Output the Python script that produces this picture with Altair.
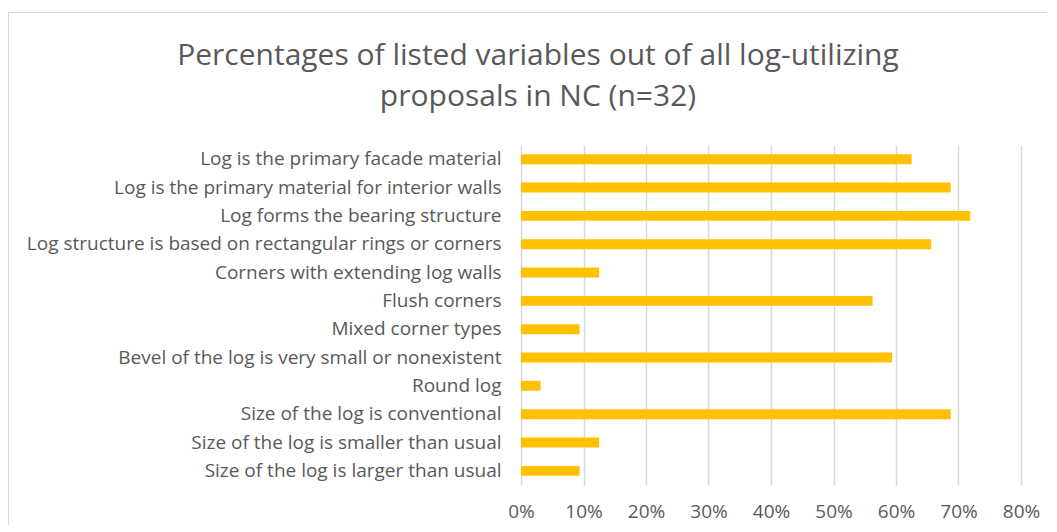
import altair as alt
import pandas as pd

categories = [
    "Log is the primary facade material",
    "Log is the primary material for interior walls",
    "Log forms the bearing structure",
    "Log structure is based on rectangular rings or corners",
    "Corners with extending log walls",
    "Flush corners",
    "Mixed corner types",
    "Bevel of the log is very small or nonexistent",
    "Round log",
    "Size of the log is conventional",
    "Size of the log is smaller than usual",
    "Size of the log is larger than usual",
]
percentages = [62.5, 68.75, 71.875, 65.625, 12.5, 56.25, 9.375, 59.375, 3.125, 68.75, 12.5, 9.375]
x_ticks = [0, 0.1, 0.2, 0.3, 0.4, 0.5, 0.6, 0.7, 0.8]
title_lines = ["Percentages of listed variables out of all log-utilizing", "proposals in NC (n=32)"]

df = pd.DataFrame({"category": categories, "share": [p / 100 for p in percentages]})

FONT = "Open Sans"
GRAY = "#595959"

bars = alt.Chart(df).mark_bar(color="#FFC000").encode(
    x=alt.X(
        "share:Q",
        scale=alt.Scale(domain=[0, 0.8], nice=False),
        axis=alt.Axis(
            values=x_ticks, format=".0%", title=None, domain=False, ticks=False,
            grid=True, gridColor="#D9D9D9", gridWidth=1.5, labelFlush=False,
            labelFont=FONT, labelFontSize=19, labelColor=GRAY, labelPadding=17,
        ),
    ),
    y=alt.Y(
        "category:N",
        sort=categories,
        scale=alt.Scale(paddingInner=0.65, paddingOuter=0.325),
        axis=alt.Axis(
            title=None, domain=False, ticks=False, grid=False,
            labelFont=FONT, labelFontSize=19, labelColor=GRAY, labelPadding=20,
            labelLimit=700,
        ),
    ),
)

border_left = alt.Chart(df).mark_rule(color="#D9D9D9", strokeWidth=1).encode(
    x=alt.value(-512.5), y=alt.value(-132.5), y2=alt.value(400)
)
border_top = alt.Chart(df).mark_rule(color="#D9D9D9", strokeWidth=1).encode(
    x=alt.value(-512.5), x2=alt.value(530), y=alt.value(-132.5)
)

chart = alt.layer(border_left, border_top, bars).properties(
    width=500,
    height=340,
    title=alt.TitleParams(
        text=title_lines, anchor="middle", frame="group", dx=-233, offset=-100,
        font=FONT, fontSize=30, fontWeight="normal", color=GRAY, lineHeight=41,
    ),
    autosize=alt.AutoSizeParams(type="none"),
    padding={"left": 513, "top": 137, "right": 26, "bottom": 40},
).configure_view(stroke=None)

chart.save("out.html", embed_options={"renderer": "svg", "actions": False})
